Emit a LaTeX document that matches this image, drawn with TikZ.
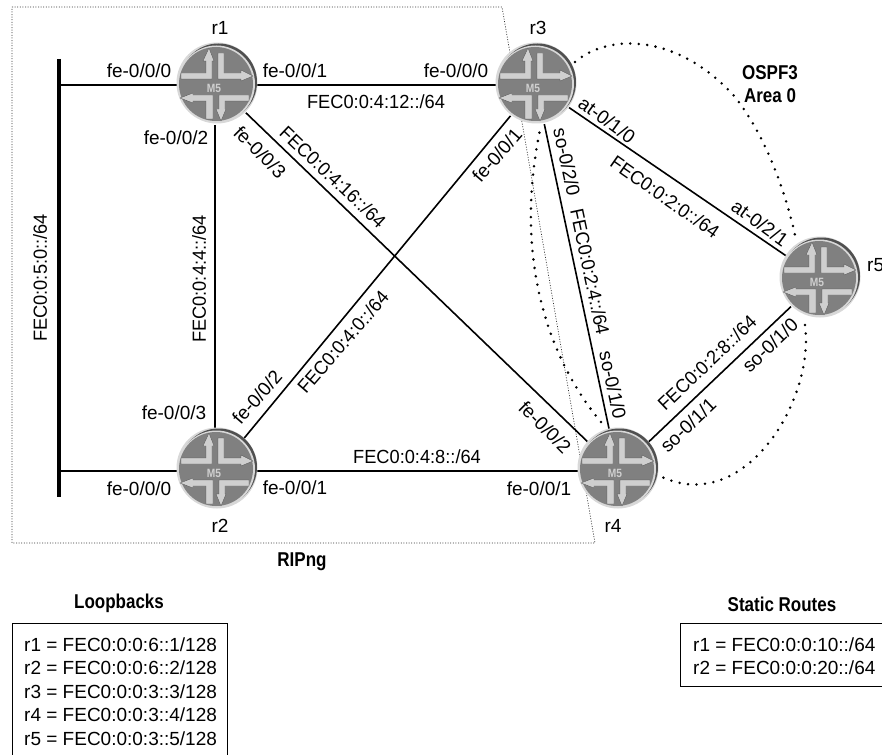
\documentclass[tikz,border=0pt]{standalone}
\usepackage{fontspec}
\setmainfont[BoldFeatures={FakeStretch=0.85}]{Liberation Sans}
\newfontfamily\fecf[FakeStretch=0.96]{Liberation Sans}
\usetikzlibrary{backgrounds}
\definecolor{rbody}{HTML}{808080}
\definecolor{rrim}{HTML}{D8D8D8}
\definecolor{rdark}{HTML}{505050}
\definecolor{rarrow}{HTML}{CFCFCF}
\tikzset{
  x=1pt,y=-1pt,
  routerbody/.style={circle,minimum size=80pt,inner sep=0pt,outer sep=0pt},
  link/.style={line width=1.6pt,black},
  lbl/.style={inner sep=0pt,font=\fontsize{19}{22}\selectfont},
  blbl/.style={inner sep=0pt,font=\fontsize{20}{22}\selectfont\bfseries},
  ospfdots/.style={line width=2.8pt,line cap=round,dash pattern=on 0pt off 8.5pt},
  ripdots/.style={line width=0.7pt,dash pattern=on 1pt off 1.6pt,black!80},
  rarr/.style={fill=rarrow,draw=rdark,line width=0.3pt,line join=round},
  router/.pic={
    \fill[rrim] (0,0) circle (40.5);
    \fill[rdark] (1.5,-1) circle (38.5);
    \fill[rrim] (-0.5,1) circle (38.5);
    \fill[rbody] (-1,1) circle (37);
    \path[rarr] (-36,-10)--(-11,-10)--(-11,-22)--(-14,-22)--(-8,-35)--(-3,-22)--(-5,-22)--(-5,-4)--(-36,-4)--cycle;
    \path[rarr] (1,-30)--(7,-30)--(7,-10)--(24,-10)--(24,-13)--(36,-7)--(24,-2)--(24,-4)--(1,-4)--cycle;
    \path[rarr] (-37,15)--(-24,10)--(-24,12)--(-4,12)--(-4,36)--(-11,36)--(-11,18)--(-24,18)--(-24,20)--cycle;
    \path[rarr] (32,12)--(2,12)--(2,26)--(-1,26)--(4,38)--(9,26)--(8,26)--(8,18)--(32,18)--cycle;
    \node[inner sep=0pt,text=rarrow,font=\fontsize{12}{12}\selectfont\bfseries] at (-3,5) {M5};
  }
}
\newcommand{\lab}[4]{\node[lbl,rotate=#3] (#1) at (#2) {#4};}
\newcommand{\flab}[4]{\node[lbl,rotate=#3] (#1) at (#2) {\fecf #4};}
\newcommand{\blab}[3]{\node[blbl] (#1) at (#2) {#3};}
\begin{document}
\begin{tikzpicture}
\useasboundingbox (0,0) rectangle (882,754);
\node[routerbody] (r1) at (217,85) {};
\node[routerbody] (r2) at (217,471) {};
\node[routerbody] (r3) at (536,85) {};
\node[routerbody] (r4) at (618,471) {};
\node[routerbody] (r5) at (820,279) {};
\coordinate (bartop) at (58.5,59);
\coordinate (barbot) at (58.5,497);
\coordinate (bar1) at (58.5,85);
\coordinate (bar2) at (58.5,471);
\coordinate (ripa) at (12,7);
\coordinate (ripb) at (502,7);
\coordinate (ripc) at (595,543);
\coordinate (ripd) at (12,543);
\draw[ripdots] (ripa)--(ripb)--(ripc)--(ripd)--cycle;
\coordinate (oa) at (575,62);
\coordinate (ob) at (795,235);
\coordinate (oc) at (805,325);
\coordinate (od) at (662,477);
\coordinate (oe) at (601,422);
\coordinate (of) at (540,130);
\draw[ospfdots] (oa) .. controls (610,32) and (680,35) .. (735,97) .. controls (765,135) and (785,190) .. (ob);
\draw[ospfdots] (oc) .. controls (815,400) and (745,515) .. (od);
\draw[ospfdots] (oe) .. controls (553,365) and (512,265) .. (of);
\draw[line width=4pt] (bartop)--(barbot);
\draw[link] (bar1)--(r1);
\draw[link] (bar2)--(r2);
\draw[link] (r1)--(r3);
\draw[link] (r2)--(r4);
\draw[link] ([xshift=-2pt]r1.south)--([xshift=-2pt]r2.north);
\draw[link] (r1)--(r4);
\draw[link] (r3)--(r2);
\draw[link] (r3)--(r4);
\draw[link] (r3)--(r5);
\draw[link] (r4)--(r5);
\pic at (217,83) {router};
\pic at (217,468) {router};
\pic at (536,83) {router};
\pic at (618,468) {router};
\pic at (820,277) {router};
\lab{lr1}{220,28}{0}{r1}
\lab{lr2}{220,526}{0}{r2}
\lab{lr3}{538,28}{0}{r3}
\lab{lr4}{613,526}{0}{r4}
\node[lbl,anchor=west] (lr5) at (867,265) {r5};
\lab{a1}{139,71}{0}{fe-0/0/0}
\lab{a2}{295,71}{0}{fe-0/0/1}
\flab{a3}{376,102}{0}{FEC0:0:4:12::/64}
\lab{a4}{456,71}{0}{fe-0/0/0}
\lab{a5}{176,138}{0}{fe-0/0/2}
\lab{a6}{260,152}{-45}{fe-0/0/3}
\flab{a7}{333,177}{-43.5}{FEC0:0:4:16::/64}
\lab{a8}{497,155}{49}{fe-0/0/1}
\flab{a9}{343,342}{49}{FEC0:0:4:0::/64}
\lab{a10}{257,397}{49}{fe-0/0/2}
\flab{a11}{199,279}{90}{FEC0:0:4:4::/64}
\flab{a12}{40,278}{90}{FEC0:0:5:0::/64}
\lab{a13}{174,413}{0}{fe-0/0/3}
\lab{a14}{139,489}{0}{fe-0/0/0}
\lab{a15}{295,488}{0}{fe-0/0/1}
\flab{a16}{417,457}{0}{FEC0:0:4:8::/64}
\lab{a17}{539,489}{0}{fe-0/0/1}
\lab{a18}{607,120}{-36}{at-0/1/0}
\flab{a19}{665,197}{-35}{FEC0:0:2:0::/64}
\lab{a20}{760,223}{-36}{at-0/2/1}
\lab{a21}{567,162}{-78}{so-0/2/0}
\flab{a22}{590,272}{-78}{FEC0:0:2:4::/64}
\lab{a23}{613,385}{-78}{so-0/1/0}
\lab{a24}{545,427}{-45}{fe-0/0/2}
\flab{a25}{707,363}{43.5}{FEC0:0:2:8::/64}
\lab{a26}{688,425}{43.5}{so-0/1/1}
\lab{a27}{770,345}{43.5}{so-0/1/0}
\blab{ospfa}{770,73}{OSPF3}
\blab{ospfb}{770,96}{Area 0}
\blab{rip}{302,562}{RIPng}
\blab{loop}{119,603}{Loopbacks}
\blab{stat}{782,604}{Static Routes}
\draw[line width=0.9pt] (12,764)--(12,623)--(227,623)--(227,764);
\draw[line width=0.9pt] (882,623)--(680,623)--(680,686)--(882,686);
\node[lbl,anchor=west] (l1) at (24,645) {r1 = FEC0:0:0:6::1/128};
\node[lbl,anchor=west] (l2) at (24,668) {r2 = FEC0:0:0:6::2/128};
\node[lbl,anchor=west] (l3) at (24,692) {r3 = FEC0:0:0:3::3/128};
\node[lbl,anchor=west] (l4) at (24,715) {r4 = FEC0:0:0:3::4/128};
\node[lbl,anchor=west] (l5) at (24,739) {r5 = FEC0:0:0:3::5/128};
\node[lbl,anchor=west] (s1) at (693,645) {r1 = FEC0:0:0:10::/64};
\node[lbl,anchor=west] (s2) at (693,668) {r2 = FEC0:0:0:20::/64};
\end{tikzpicture}
\end{document}
